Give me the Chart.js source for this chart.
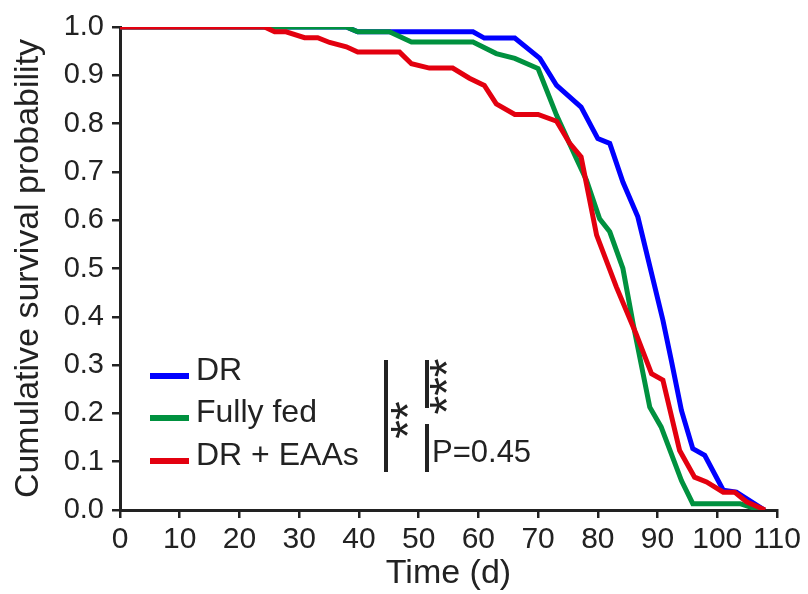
<!DOCTYPE html>
<html>
<head>
<meta charset="utf-8">
<script src="https://cdn.jsdelivr.net/npm/chart.js@4.4.1/dist/chart.umd.min.js"></script>
<style>
    body { margin: 0; background: #fff; }
    #wrap { width: 808px; height: 594px; }
</style>
</head>
<body>
<div id="wrap"><canvas id="survivalChart" width="808" height="594"></canvas></div>
<script>
// 생존 곡선 데이터 (일, 생존율)
const drDays = [0, 37.9, 39.8, 59.1, 61.0, 66.1, 70.3, 73.1, 77.2, 80.0, 82.0, 84.2, 86.7, 90.9, 92.3, 94.0, 95.9, 97.9, 101.0, 103.2, 107.9];
const drSurv = [1.0, 1.0, 0.99, 0.99, 0.977, 0.977, 0.935, 0.879, 0.834, 0.769, 0.759, 0.679, 0.607, 0.393, 0.31, 0.206, 0.127, 0.113, 0.041, 0.037, 0.0];

const fedDays = [0, 37.9, 39.8, 45.1, 48.8, 59.1, 63.0, 66.1, 70.0, 73.1, 76.4, 78.1, 80.3, 82.0, 84.2, 85.9, 88.7, 90.6, 94.0, 95.9, 103.8, 107.1];
const fedSurv = [1.0, 1.0, 0.99, 0.99, 0.969, 0.969, 0.945, 0.935, 0.914, 0.817, 0.728, 0.683, 0.603, 0.576, 0.5, 0.386, 0.213, 0.172, 0.061, 0.013, 0.013, 0.0];

const eaaDays = [0, 24.2, 25.9, 27.8, 30.9, 33.1, 35.1, 37.9, 39.8, 46.8, 48.8, 51.8, 55.7, 58.5, 61.0, 63.0, 66.1, 70.0, 73.1, 75.3, 77.2, 79.8, 83.1, 86.4, 89.0, 90.9, 93.7, 96.2, 98.2, 101.0, 102.9, 104.9, 108.0];
const eaaSurv = [1.0, 1.0, 0.99, 0.99, 0.978, 0.978, 0.968, 0.959, 0.948, 0.948, 0.924, 0.915, 0.915, 0.894, 0.879, 0.841, 0.819, 0.819, 0.805, 0.759, 0.731, 0.569, 0.462, 0.365, 0.282, 0.269, 0.123, 0.068, 0.058, 0.037, 0.037, 0.017, 0.0];

const seriesNames = ['DR', 'Fully fed', 'DR + EAAs'];
const seriesColors = ['#0000ff', '#00913f', '#e3000f'];
const xTicks = [0, 10, 20, 30, 40, 50, 60, 70, 80, 90, 100, 110];
const yTicks = [0, 0.1, 0.2, 0.3, 0.4, 0.5, 0.6, 0.7, 0.8, 0.9, 1.0];

const ink = '#222222';
const font = 'Liberation Sans, Arial, sans-serif';

function toPoints(days, surv) {
    return days.map(function (d, i) { return { x: d, y: surv[i] }; });
}

// 범례와 유의성 표시 (차트 안쪽)
const notes = {
    id: 'notes',
    afterDraw(chart) {
        const ctx = chart.ctx;
        ctx.save();
        ctx.fillStyle = ink;
        ctx.strokeStyle = ink;

        // legend
        const rows = [376, 418, 461];
        ctx.font = '32px ' + font;
        ctx.textBaseline = 'middle';
        ctx.textAlign = 'left';
        for (let i = 0; i < seriesNames.length; i++) {
            ctx.lineWidth = 6;
            ctx.strokeStyle = seriesColors[i];
            ctx.beginPath();
            ctx.moveTo(150, rows[i]);
            ctx.lineTo(189, rows[i]);
            ctx.stroke();
            ctx.fillStyle = ink;
            ctx.fillText(seriesNames[i], 196, rows[i] - 5);
        }

        // bars
        ctx.strokeStyle = ink;
        ctx.lineWidth = 4;
        ctx.beginPath();
        ctx.moveTo(386, 360); ctx.lineTo(386, 472);
        ctx.moveTo(427, 360); ctx.lineTo(427, 408);
        ctx.moveTo(427, 424); ctx.lineTo(427, 472);
        ctx.stroke();

        // rotated stars
        function stars(text, cx, cy) {
            ctx.save();
            ctx.font = '48px ' + font;
            ctx.textAlign = 'center';
            ctx.textBaseline = 'alphabetic';
            const m = ctx.measureText('*');
            const mid = (m.actualBoundingBoxDescent - m.actualBoundingBoxAscent) / 2;
            ctx.translate(cx, cy);
            ctx.rotate(-Math.PI / 2);
            ctx.fillText(text, 0, -mid);
            ctx.restore();
        }
        stars('**', 399, 420);
        stars('***', 438, 386.5);

        ctx.font = '31px ' + font;
        ctx.textBaseline = 'alphabetic';
        ctx.textAlign = 'left';
        ctx.fillText('P=0.45', 432, 462);
        ctx.restore();
    }
};

const survivalCtx = document.getElementById('survivalChart');

new Chart(survivalCtx, {
    type: 'line',
    data: {
        datasets: [
            { label: seriesNames[0], data: toPoints(drDays, drSurv), borderColor: seriesColors[0], order: 2 },
            { label: seriesNames[1], data: toPoints(fedDays, fedSurv), borderColor: seriesColors[1], order: 1 },
            { label: seriesNames[2], data: toPoints(eaaDays, eaaSurv), borderColor: seriesColors[2], order: 0 }
        ]
    },
    options: {
        responsive: false,
        animation: false,
        layout: { padding: { left: 0, top: 27, right: 31, bottom: 0 } },
        elements: {
            line: { borderWidth: 5, tension: 0, fill: false },
            point: { radius: 0 }
        },
        plugins: {
            legend: { display: false },
            tooltip: { enabled: false }
        },
        scales: {
            x: {
                type: 'linear',
                min: 0,
                max: 110,
                afterFit: function (s) { s.height = 84; },
                afterBuildTicks: function (s) { s.ticks = xTicks.map(function (v) { return { value: v }; }); },
                ticks: { color: ink, font: { family: font, size: 30 }, padding: 4, maxRotation: 0, autoSkip: false },
                grid: { drawOnChartArea: false, drawTicks: true, tickLength: 8, color: ink, lineWidth: 2.5 },
                border: { display: true, color: ink, width: 3 },
                title: { display: true, text: 'Time (d)', color: ink, font: { family: font, size: 34 }, padding: 0 }
            },
            y: {
                min: 0,
                max: 1,
                afterFit: function (s) { s.width = 120; },
                afterBuildTicks: function (s) { s.ticks = yTicks.map(function (v) { return { value: v }; }); },
                ticks: {
                    color: ink, font: { family: font, size: 29 }, padding: 8, autoSkip: false,
                    callback: function (v) { return v.toFixed(1); }
                },
                grid: { drawOnChartArea: false, drawTicks: true, tickLength: 8, color: ink, lineWidth: 2.5 },
                border: { display: true, color: ink, width: 3 },
                title: { display: true, text: 'Cumulative survival probability', color: ink, font: { family: font, size: 34 }, padding: { top: 8, bottom: 0 } }
            }
        }
    },
    plugins: [notes]
});
</script>
</body>
</html>
